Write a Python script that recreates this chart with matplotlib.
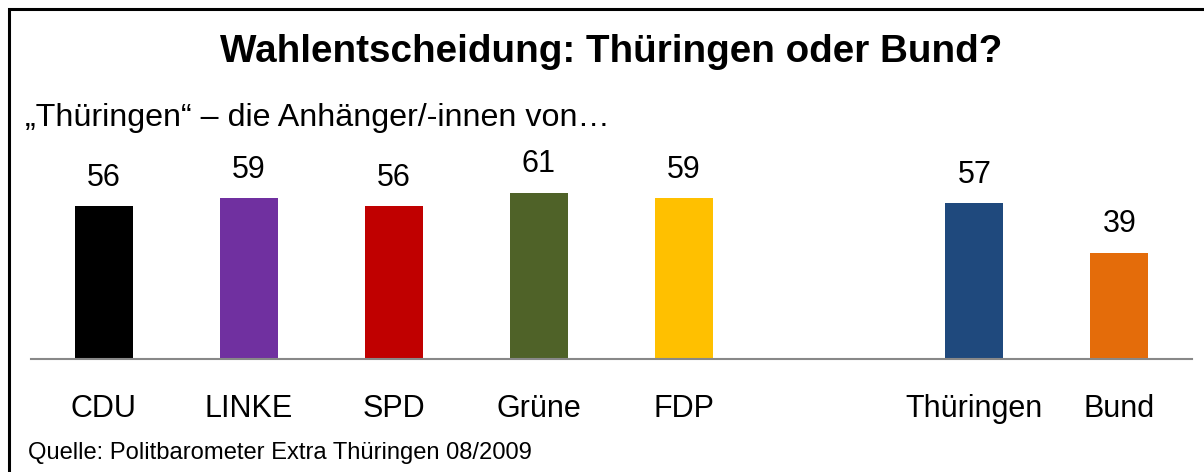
import matplotlib
matplotlib.use("Agg")
import matplotlib.pyplot as plt
from matplotlib.patches import Rectangle

plt.rcParams['font.family'] = ['Liberation Sans', 'DejaVu Sans']

categories = ["CDU", "LINKE", "SPD", "Grüne", "FDP", "", "Thüringen", "Bund"]
values = [56, 59, 56, 61, 59, None, 57, 39]
colors = ["#000000", "#7030A0", "#C00000", "#4F6228", "#FFC000", "#FFFFFF", "#1F497D", "#E46C0A"]
title = "Wahlentscheidung: Thüringen oder Bund?"
subtitle = "„Thüringen“ – die Anhänger/-innen von…"
source = "Quelle: Politbarometer Extra Thüringen 08/2009"

W, H = 1204, 472
fig = plt.figure(figsize=(W / 100, H / 100), dpi=100)

# border (left and top visible)
fig.patches.append(Rectangle((8.5 / W, -0.1), 1.2, 1.1 - 8.5 / H, transform=fig.transFigure,
                             fill=False, edgecolor="#000000", linewidth=2.2))

ax = fig.add_axes([31 / W, 1 - 359 / H, (1192 - 31) / W, 191 / H])
xs = list(range(len(categories)))
idx = [i for i, v in enumerate(values) if v is not None]
bars = ax.bar([xs[i] for i in idx], [values[i] for i in idx], width=0.4,
              color=[colors[i] for i in idx])
ax.bar_label(bars, labels=[str(values[i]) for i in idx], padding=9.5, fontsize=22)
ax.set_xlim(-0.5, len(categories) - 0.5)
ax.set_ylim(0, 70)
ax.set_xticks(xs)
ax.set_xticklabels(categories, fontsize=22)
for lab in ax.get_xticklabels():
    lab.set_verticalalignment("baseline")
ax.tick_params(axis='x', length=0, pad=42)
ax.set_yticks([])
for s in ["top", "right", "left"]:
    ax.spines[s].set_visible(False)
ax.spines["bottom"].set_color("#888888")
ax.spines["bottom"].set_linewidth(1.5)
ax.patch.set_alpha(0)

fig.text(611 / W, 1 - 52 / H, title, ha="center", va="center", fontsize=27.8, fontweight="bold")
fig.text(25 / W, 1 - 126 / H, subtitle, ha="left", va="baseline", fontsize=23.2)
fig.text(28 / W, 1 - 459 / H, source, ha="left", va="baseline", fontsize=17.1)

fig.savefig("out.png", dpi=100)
